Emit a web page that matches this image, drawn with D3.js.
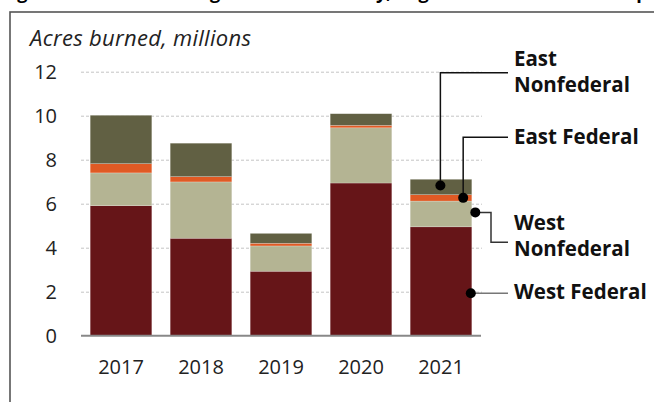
<!DOCTYPE html>
<html>
<head>
<meta charset="utf-8">
<script src="https://cdn.jsdelivr.net/npm/d3@7"></script>
<style>
  body { margin: 0; background: #fff; }
  svg { display: block; font-family: "Open Sans", Lato, sans-serif; }
</style>
</head>
<body>
<svg id="chart" width="654" height="402"></svg>
<script>
"use strict";

// data (millions of acres)
var years = ["2017", "2018", "2019", "2020", "2021"];
var westFederal    = [5.91, 4.43, 2.93, 6.94, 4.95];
var westNonfederal = [1.49, 2.56, 1.15, 2.51, 1.17];
var eastFederal    = [0.42, 0.24, 0.12, 0.11, 0.29];
var eastNonfederal = [2.20, 1.52, 0.45, 0.53, 0.70];
var seriesNames = ["West Federal", "West Nonfederal", "East Federal", "East Nonfederal"];
var yTicks = [0, 2, 4, 6, 8, 10, 12];

var colors = {
  "West Federal": "#661518",
  "West Nonfederal": "#b4b493",
  "East Federal": "#e05a24",
  "East Nonfederal": "#616043"
};

var svg = d3.select("#chart");

// figure title, mostly above the top of the picture
svg.append("text")
  .attr("x", 2).attr("y", -1)
  .attr("font-weight", "bold").attr("font-size", 18)
  .text("Figure 1. Wildfire Acreage Burned Annually, Region and Land Ownership");

// frame
svg.append("rect")
  .attr("x", 10).attr("y", 12).attr("width", 700).attr("height", 420)
  .attr("fill", "#fff").attr("stroke", "#555").attr("stroke-width", 1.6);

var x = d3.scaleBand().domain(years).range([81, 481]).paddingInner(0.23).paddingOuter(0.115);
var y = d3.scaleLinear().domain([0, 12]).range([335.7, 71.7]);

var rows = years.map(function(yr, i) {
  return {
    year: yr,
    "West Federal": westFederal[i],
    "West Nonfederal": westNonfederal[i],
    "East Federal": eastFederal[i],
    "East Nonfederal": eastNonfederal[i]
  };
});
var stacked = d3.stack().keys(seriesNames)(rows);

var g = svg.append("g");

// gridlines
g.append("g")
  .attr("transform", "translate(81,0)")
  .call(d3.axisLeft(y).tickValues(yTicks.slice(1)).tickSize(-401).tickFormat(""))
  .call(function(s) {
    s.select(".domain").remove();
    s.selectAll("line").attr("stroke", "#c4c4c4").attr("stroke-dasharray", "3,2").attr("stroke-width", 1);
  });

// y labels
g.append("g")
  .attr("transform", "translate(57,0)")
  .call(d3.axisLeft(y).tickValues(yTicks).tickSize(0).tickPadding(0))
  .call(function(s) {
    s.select(".domain").remove();
    s.selectAll("text").attr("font-size", 20).attr("fill", "#222").attr("font-family", "'Open Sans', sans-serif");
  });

// bars
g.selectAll("g.series").data(stacked).enter().append("g")
  .attr("class", "series")
  .attr("fill", function(d) { return colors[d.key]; })
  .selectAll("rect").data(function(d) { return d; }).enter().append("rect")
  .attr("x", function(d) { return x(d.data.year); })
  .attr("width", x.bandwidth())
  .attr("y", function(d) { return y(d[1]); })
  .attr("height", function(d) { return y(d[0]) - y(d[1]); })
  .attr("stroke", "rgba(255,255,255,0.35)")
  .attr("stroke-width", 0.6);

// baseline
g.append("line")
  .attr("x1", 81).attr("x2", 481).attr("y1", y(0)).attr("y2", y(0))
  .attr("stroke", "#888").attr("stroke-width", 2);

// x labels
g.append("g")
  .attr("transform", "translate(0," + y(0) + ")")
  .call(d3.axisBottom(x).tickSize(0).tickPadding(24))
  .call(function(s) {
    s.select(".domain").remove();
    s.selectAll("text").attr("font-size", 20).attr("fill", "#222").attr("font-family", "'Open Sans', sans-serif");
  });

// axis title
svg.append("text")
  .attr("x", 30).attr("y", 46)
  .attr("font-style", "italic").attr("font-size", 22).attr("letter-spacing", 0.3).attr("fill", "#222")
  .text("Acres burned, millions");

// annotations on the 2021 bar
var last = stacked.map(function(s) { return s[s.length - 1]; });
var bx = x("2021"), bw = x.bandwidth();
function segY(k, frac) { var d = last[k]; return y(d[0] + (d[1] - d[0]) * frac); }

var notes = [
  { key: 3, dx: bx + bw * 0.49, frac: 0.6, path: function(px, py) { return [[px, py], [px, 72.7], [508, 72.7]]; },
    lines: ["East", "Nonfederal"], ty: 66, stroke: "#111" },
  { key: 2, dx: bx + bw * 0.86, frac: 0.5, path: function(px, py) { return [[px, py], [px, 137.3], [508, 137.3]]; },
    lines: ["East Federal"], ty: 143.5, stroke: "#111" },
  { key: 1, dx: bx + bw + 3.5, frac: 0.56, path: function(px, py) { return [[px, py], [491, py], [491, 242.3], [508, 242.3]]; },
    lines: ["West", "Nonfederal"], ty: 230, stroke: "#333" },
  { key: 0, dx: bx + bw - 1, frac: 0.39, path: function(px, py) { return [[px, py], [508, py]]; },
    lines: ["West Federal"], ty: 299, stroke: "#777" }
];

var ann = svg.append("g");
notes.forEach(function(n) {
  var py = segY(n.key, n.frac);
  ann.append("path")
    .attr("d", d3.line()(n.path(n.dx, py)))
    .attr("fill", "none").attr("stroke", n.stroke).attr("stroke-width", 1.5);
  ann.append("circle").attr("cx", n.dx).attr("cy", py).attr("r", 5).attr("fill", "#000");
  var t = ann.append("text")
    .attr("x", 514).attr("y", n.ty)
    .attr("font-weight", "bold").attr("font-size", 20.5).attr("fill", "#111");
  n.lines.forEach(function(s, i) {
    t.append("tspan").attr("x", 514).attr("dy", i ? 25.5 : 0).text(s);
  });
});
</script>
</body>
</html>
